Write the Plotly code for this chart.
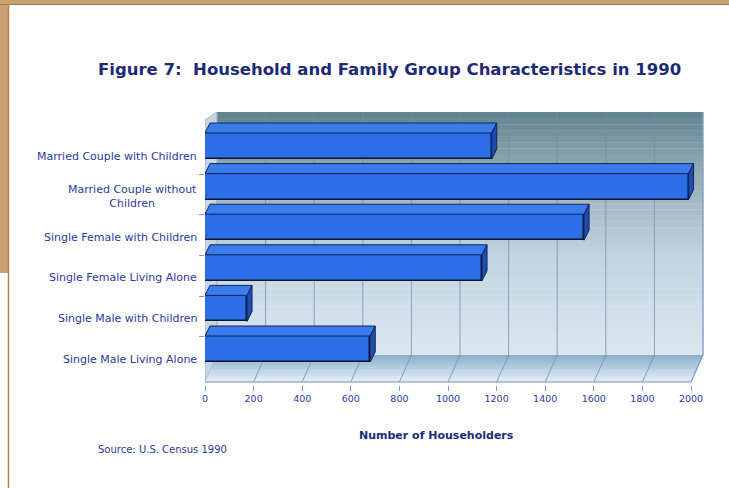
import plotly.graph_objects as go

# Household counts by family group, 1990
categories = [
    "Married Couple with Children",
    "Married Couple without<br>Children",
    "Single Female with Children",
    "Single Female Living Alone",
    "Single Male with Children",
    "Single Male Living Alone",
]
households = [1180, 1990, 1560, 1140, 173, 680]
tick_values = [0, 200, 400, 600, 800, 1000, 1200, 1400, 1600, 1800, 2000]
tick_labels = [str(v) for v in tick_values]

NAVY = "#1d2a78"
LABEL = "#2a3a9a"
W, H = 729, 488
L, R, T, B = 205, 25, 112, 103
plot_w = W - L - R
plot_h = H - T - B
px_per_x = 0.243                 # pixels per household unit
x_max = plot_w / px_per_x
px_per_row = 40.6
row0_px = 156
y_top = (T - row0_px) / px_per_row
y_bot = (H - B - row0_px) / px_per_row

# 3-D box geometry (in data units)
depth_x = 12 / px_per_x
depth_y = 27 / px_per_row
floor_front = (382 - row0_px) / px_per_row
wall_bottom = floor_front - depth_y
bar_width = 26 / px_per_row
bar_offset = -10 / px_per_row - bar_width / 2
face_dx = 5 / px_per_x
face_dy = 10 / px_per_row


def px_x(px):
    """Figure pixel column -> paper x."""
    return (px - L) / plot_w


def px_y(px):
    """Figure pixel row -> paper y."""
    return 1 + (T - px) / plot_h


def lerp_color(stops, t):
    for (t0, c0), (t1, c1) in zip(stops, stops[1:]):
        if t <= t1:
            f = 0 if t1 == t0 else (t - t0) / (t1 - t0)
            c = [round(a + (b - a) * f) for a, b in zip(c0, c1)]
            return "rgb(%d,%d,%d)" % tuple(c)
    return "rgb(%d,%d,%d)" % tuple(stops[-1][1])


shapes = []

# back wall with vertical shading
wall_stops = [(0.0, (98, 134, 143)), (0.25, (146, 174, 185)),
              (0.6, (194, 212, 225)), (1.0, (218, 231, 240))]
n = 40
for k in range(n):
    y0 = y_top + (wall_bottom - y_top) * k / n
    y1 = y_top + (wall_bottom - y_top) * (k + 1) / n
    shapes.append(dict(type="rect", xref="x", yref="y", layer="below",
                       x0=depth_x, x1=2000 + depth_x, y0=y0, y1=y1 + 0.01,
                       fillcolor=lerp_color(wall_stops, k / (n - 1)),
                       line=dict(width=0)))

# left side wall
shapes.append(dict(type="path", xref="x", yref="y", layer="below",
                   path=f"M 0,{floor_front} L 0,{y_top + depth_y * 0.3} "
                        f"L {depth_x},{y_top} L {depth_x},{wall_bottom} Z",
                   fillcolor="rgb(200,214,226)", line=dict(color="rgb(150,175,205)", width=1)))

# floor with shading toward the front edge
floor_stops = [(0.0, (140, 178, 204)), (1.0, (226, 236, 244))]
m = 14
for k in range(m):
    f0, f1 = k / m, (k + 1) / m
    ya = wall_bottom + depth_y * f0
    yb = wall_bottom + depth_y * f1
    xa = depth_x * (1 - f0)
    xb = depth_x * (1 - f1)
    shapes.append(dict(type="path", xref="x", yref="y", layer="below",
                       path=f"M {xa},{ya} L {2000 + xa},{ya} L {2000 + xb},{yb + 0.01} "
                            f"L {xb},{yb + 0.01} Z",
                       fillcolor=lerp_color(floor_stops, k / (m - 1)),
                       line=dict(width=0)))
shapes.append(dict(type="line", xref="x", yref="y", layer="below",
                   x0=0, x1=2000, y0=floor_front, y1=floor_front,
                   line=dict(color="rgb(120,150,200)", width=1)))
shapes.append(dict(type="line", xref="x", yref="y", layer="below",
                   x0=2000, x1=2000 + depth_x, y0=floor_front, y1=wall_bottom,
                   line=dict(color="rgb(140,170,210)", width=1)))
shapes.append(dict(type="line", xref="x", yref="y", layer="below",
                   x0=2000 + depth_x, x1=2000 + depth_x, y0=wall_bottom, y1=y_top,
                   line=dict(color="rgb(150,180,220)", width=1)))

# grid lines on the wall and across the floor
for v in tick_values[1:]:
    shapes.append(dict(type="line", xref="x", yref="y", layer="below",
                       x0=v + depth_x, x1=v + depth_x, y0=y_top, y1=wall_bottom,
                       line=dict(color="rgba(120,135,175,0.75)", width=1)))
    shapes.append(dict(type="line", xref="x", yref="y", layer="below",
                       x0=v, x1=v + depth_x, y0=floor_front, y1=wall_bottom,
                       line=dict(color="rgba(110,140,190,0.8)", width=1)))

rows = list(range(len(categories)))
fig = go.Figure()

# front faces of the bars
fig.add_trace(go.Bar(
    x=households, y=rows, orientation="h",
    width=bar_width, offset=bar_offset,
    marker=dict(color="#2c6ee8", line=dict(color="#0c1430", width=1.5)),
    hoverinfo="x",
))

# top and end faces of each bar
top_x, top_y, side_x, side_y = [], [], [], []
for i, v in zip(rows, households):
    y_up = i + bar_offset
    y_dn = y_up + bar_width
    top_x += [0, v, v + face_dx, face_dx, 0, None]
    top_y += [y_up, y_up, y_up - face_dy, y_up - face_dy, y_up, None]
    side_x += [v, v + face_dx, v + face_dx, v, v, None]
    side_y += [y_up, y_up - face_dy, y_dn - face_dy, y_dn, y_up, None]

fig.add_trace(go.Scatter(x=top_x, y=top_y, mode="lines", fill="toself",
                         fillcolor="#3a7cec", line=dict(color="#14245a", width=1),
                         hoverinfo="skip"))
fig.add_trace(go.Scatter(x=side_x, y=side_y, mode="lines", fill="toself",
                         fillcolor="#1d4cb4", line=dict(color="#14245a", width=1),
                         hoverinfo="skip"))

annotations = []
for i, name in zip(rows, categories):
    annotations.append(dict(text=name, x=px_x(199), xref="paper",
                            y=i, yref="y", xanchor="right", yanchor="middle",
                            align="center", showarrow=False,
                            font=dict(family="DejaVu Sans", size=11, color=LABEL)))

annotations.append(dict(text="Figure 7:  Household and Family Group Characteristics in 1990",
                        x=px_x(389), y=px_y(69), xref="paper", yref="paper",
                        xanchor="center", yanchor="middle", showarrow=False,
                        font=dict(family="DejaVu Sans", size=16.5, color=NAVY, weight="bold")))
annotations.append(dict(text="Number of Householders",
                        x=px_x(436), y=px_y(435),
                        xref="paper", yref="paper", xanchor="center", yanchor="middle",
                        showarrow=False,
                        font=dict(family="DejaVu Sans", size=11, color=NAVY, weight="bold")))
annotations.append(dict(text="Source: U.S. Census 1990",
                        x=px_x(96), y=px_y(449),
                        xref="paper", yref="paper", xanchor="left", yanchor="middle",
                        showarrow=False,
                        font=dict(family="DejaVu Sans", size=10, color=LABEL)))

# page frame
frame = [
    dict(type="rect", xref="paper", yref="paper", layer="below",
         x0=px_x(0), x1=px_x(W), y0=px_y(0), y1=px_y(4),
         fillcolor="#c6a274", line=dict(width=0)),
    dict(type="rect", xref="paper", yref="paper", layer="below",
         x0=px_x(0), x1=px_x(8), y0=px_y(0), y1=px_y(273),
         fillcolor="#c6a274", line=dict(width=0)),
    dict(type="line", xref="paper", yref="paper", layer="below",
         x0=px_x(0), x1=px_x(W), y0=px_y(4.5), y1=px_y(4.5),
         line=dict(color="#a97c3e", width=1)),
    dict(type="line", xref="paper", yref="paper", layer="below",
         x0=px_x(8.5), x1=px_x(8.5), y0=px_y(4), y1=px_y(H),
         line=dict(color="#b5843e", width=1.5)),
]

# small ticks between category rows on the left edge
row_ticks = [i + 0.45 for i in rows[:-1]]

fig.update_layout(
    width=W, height=H,
    margin=dict(l=L, r=R, t=T, b=B),
    paper_bgcolor="white", plot_bgcolor="rgba(0,0,0,0)",
    showlegend=False, bargap=0,
    shapes=frame + shapes,
    annotations=annotations,
    xaxis=dict(range=[0, x_max], tickvals=tick_values, ticktext=tick_labels,
               showgrid=False, zeroline=False, showline=False,
               ticks="outside", ticklen=5, tickcolor="rgb(120,150,200)",
               tickfont=dict(family="DejaVu Sans", size=9.5, color=LABEL)),
    yaxis=dict(range=[y_bot, y_top], tickvals=row_ticks, showticklabels=False,
               showgrid=False, zeroline=False, showline=False,
               ticks="outside", ticklen=5, tickcolor="rgb(120,150,200)"),
)

fig.write_html("out.html")
